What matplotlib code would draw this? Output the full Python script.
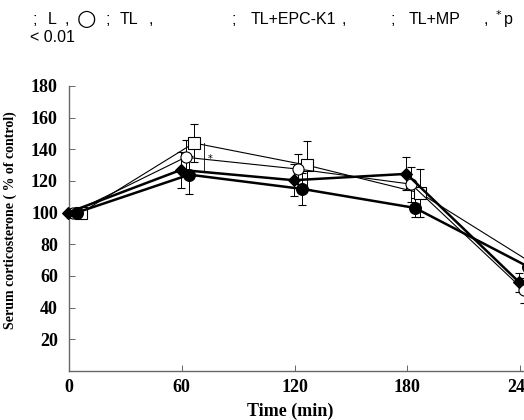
import matplotlib
matplotlib.use("Agg")
import matplotlib.pyplot as plt

# ----------------------------
# data
# ----------------------------
time = [0, 60, 120, 180, 240]

l_mean = [100, 124, 115, 103, 66]
l_err = [0, 12, 10, 6, 8]

tl_mean = [100, 135, 127.5, 118, 51]
tl_err = [0, 11, 9.5, 11, 8]

epc_mean = [100, 127, 120.5, 124.5, 56]
epc_err = [0, 11.5, 10, 10.5, 6]

mp_mean = [100, 144, 130, 112.5, 68]
mp_err = [0, 12, 15, 15, 6]

yticks = [20, 40, 60, 80, 100, 120, 140, 160, 180]
xticks = [0, 60, 120, 180, 240]

# caption pieces (the legend symbols are missing in the original)
caption = [";", "L", ",", "\u25cb", ";", "TL", ",", ";", "TL+EPC-K1", ",",
           ";", "TL+MP", ",", "$^*$p"]

# ----------------------------
# figure
# ----------------------------
W, H = 524, 420
fig = plt.figure(figsize=(W / 100, H / 100), dpi=100)
ax = fig.add_axes([69 / W, 1 - 371 / H, 1 - 69 / W, (371 - 86) / H])

series = [
    # mean, err, marker, face, line width, x shift (min), marker size
    (mp_mean, mp_err, "s", "white", 0.8, 6.5, 8),
    (tl_mean, tl_err, "o", "white", 0.8, 2.0, 8),
    (epc_mean, epc_err, "D", "black", 1.8, -0.5, 6.5),
    (l_mean, l_err, "o", "black", 1.8, 4.0, 8.5),
]

for mean, err, mk, face, lw, dx, ms in series:
    xs = [t + dx for t in time]
    ax.errorbar(xs, mean, yerr=err, color="black", lw=lw, marker=mk,
                markersize=ms, markerfacecolor=face, markeredgecolor="black",
                markeredgewidth=0.8, ecolor="black", elinewidth=0.7,
                capsize=3, capthick=0.7, clip_on=False, zorder=3)

# significance mark at 60 min
ax.plot([72, 72], [126, 144], color="black", lw=0.6)
ax.text(74, 134, "*", fontsize=7, ha="left", va="center")

ax.set_xlim(0, 242)
ax.set_ylim(0, 180)
ax.set_xticks(xticks)
ax.set_yticks(yticks)

for s in ["top", "right"]:
    ax.spines[s].set_visible(False)
for s in ["left", "bottom"]:
    ax.spines[s].set_color("#666666")
    ax.spines[s].set_linewidth(1.0)

ax.tick_params(direction="in", length=4, width=0.7, color="#666666")
ax.tick_params(axis="y", pad=8)
ax.tick_params(axis="x", pad=6)
for lab in ax.get_xticklabels() + ax.get_yticklabels():
    lab.set_fontfamily("Liberation Serif")
    lab.set_fontweight("bold")
    lab.set_fontsize(13)

ax.set_xlabel("Time (min)", fontfamily="Liberation Serif", fontweight="bold",
              fontsize=13)
ax.xaxis.set_label_coords((290 - 69) / (W - 69), -0.11)
ax.set_ylabel("Serum corticosterone ( % of control)", fontfamily="Liberation Serif",
              fontweight="bold", fontsize=10)
ax.yaxis.set_label_coords(-(69 - 17) / (W - 69), 0.53)

# caption above the chart
cap_x = [33, 48, 65, 77, 106, 120, 149, 232, 251, 342, 391, 409, 484, 493]
for x, t in zip(cap_x, caption):
    fig.text(x / W, 1 - 19 / H, t, family=["DejaVu Sans"] if t == "\u25cb" else ["Liberation Sans"],
             fontsize=16 if t == "\u25cb" else 11.5, va="center", ha="left")
fig.text(30 / W, 1 - 38 / H, "< 0.01", fontfamily="Liberation Sans",
         fontsize=11.5, va="center", ha="left")

plt.savefig("out.png", dpi=100)
